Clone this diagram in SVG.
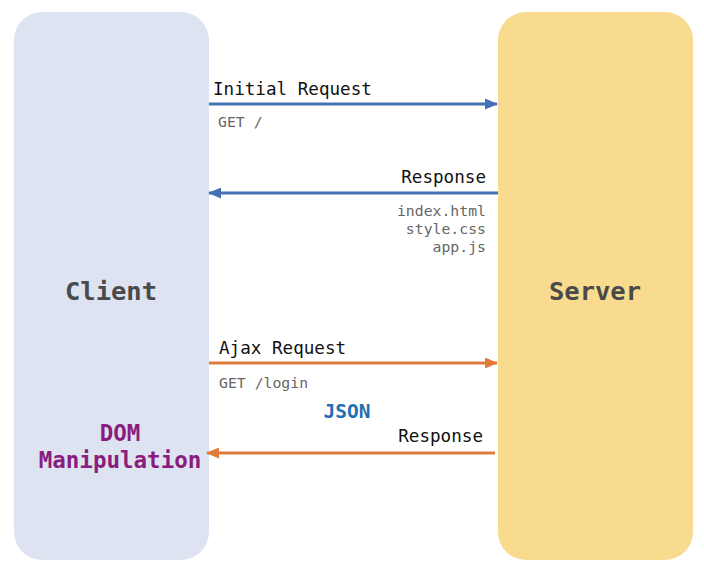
<svg xmlns="http://www.w3.org/2000/svg" width="704" height="571" viewBox="0 0 704 571">
<defs>
<style>
.mono{font-family:"DejaVu Sans Mono","Liberation Mono",monospace}
.lbl{font-size:17.6px;fill:#111}
.sub{font-size:14.8px;fill:#666}
.big{font-size:25.5px;font-weight:bold;fill:#4a4a4a}
.blue{stroke:#4470b4;stroke-width:3;fill:none}
.orange{stroke:#e07b39;stroke-width:3;fill:none}
</style>
<marker id="ab" markerWidth="13" markerHeight="11" refX="12" refY="5.5" orient="auto" markerUnits="userSpaceOnUse"><path d="M0,0 L13,5.5 L0,11 Z" fill="#4470b4"/></marker>
<marker id="ao" markerWidth="13" markerHeight="11" refX="12" refY="5.5" orient="auto" markerUnits="userSpaceOnUse"><path d="M0,0 L13,5.5 L0,11 Z" fill="#e07b39"/></marker>
</defs>
<rect width="704" height="571" fill="#fff"/>
<g id="client">
<rect x="14" y="12" width="195" height="548" rx="28" ry="28" fill="#dde3f0"/>
<text class="mono big" x="111" y="300" text-anchor="middle">Client</text>
</g>
<g id="server">
<rect x="498" y="12" width="195" height="548" rx="28" ry="28" fill="#f8db8e"/>
<text class="mono big" x="595" y="300" text-anchor="middle">Server</text>
</g>
<g id="dom">
<text class="mono" x="120" y="441" text-anchor="middle" font-size="22.5" font-weight="bold" fill="#8b1c7f">DOM</text>
<text class="mono" x="120" y="468" text-anchor="middle" font-size="22.5" font-weight="bold" fill="#8b1c7f">Manipulation</text>
</g>
<g id="connectors">
<line class="blue" x1="209" y1="104" x2="497" y2="104" marker-end="url(#ab)"/>
<line class="blue" x1="498" y1="193" x2="209" y2="193" marker-end="url(#ab)"/>
<line class="orange" x1="209" y1="363" x2="497" y2="363" marker-end="url(#ao)"/>
<line class="orange" x1="495" y1="453" x2="207" y2="453" marker-end="url(#ao)"/>
<text class="mono lbl" x="213" y="95">Initial Request</text>
<text class="mono sub" x="218" y="127">GET /</text>
<text class="mono lbl" x="486" y="183" text-anchor="end">Response</text>
<text class="mono sub" x="486" y="216" text-anchor="end">index.html</text>
<text class="mono sub" x="486" y="234" text-anchor="end">style.css</text>
<text class="mono sub" x="486" y="252" text-anchor="end">app.js</text>
<text class="mono lbl" x="219" y="354">Ajax Request</text>
<text class="mono sub" x="219" y="388">GET /login</text>
<text class="mono" x="347" y="418" text-anchor="middle" font-size="19.5" font-weight="bold" fill="#1f6fb5">JSON</text>
<text class="mono lbl" x="483" y="442" text-anchor="end">Response</text>
</g>
</svg>
